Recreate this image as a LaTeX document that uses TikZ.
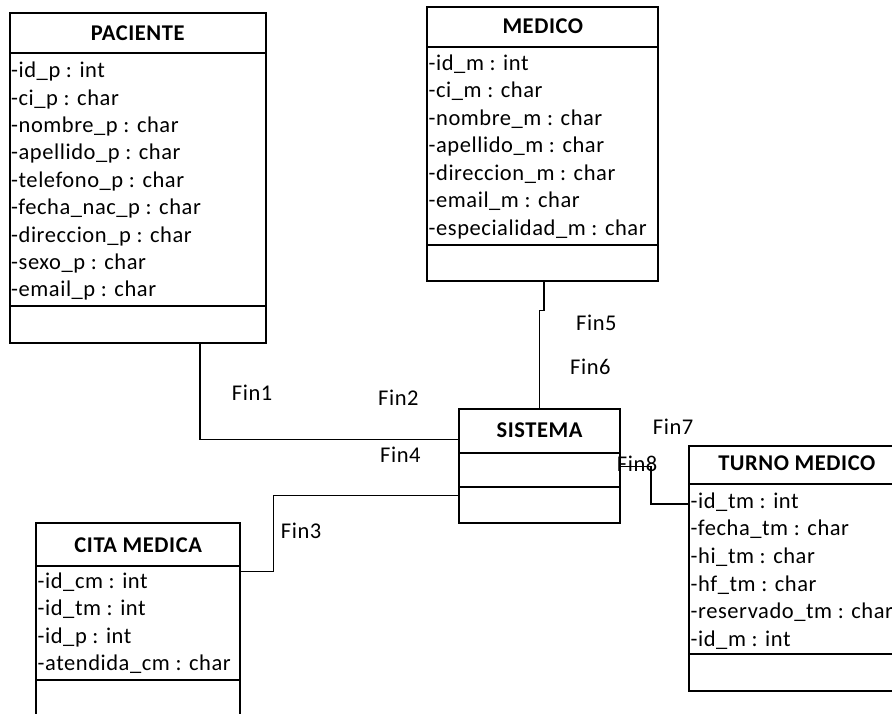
\documentclass[tikz,border=0pt]{standalone}
\usepackage{fontspec}
\setmainfont{Carlito}[LetterSpace=2.5]
\begin{document}
\begin{tikzpicture}[x=1pt,y=-1pt,
  box/.style={draw, line width=2pt, anchor=north west, inner sep=0pt, outer sep=0pt},
  divider/.style={line width=2pt},
  ttl/.style={anchor=base, inner sep=0pt, font=\fontsize{22.5}{27}\selectfont\bfseries},
  attr/.style={anchor=base west, inner sep=0pt, font=\fontsize{22.5}{27}\selectfont},
  fin/.style={anchor=base west, inner sep=0pt, font=\fontsize{22.5}{27}\selectfont},
  link/.style={line width=1.2pt}]
\useasboundingbox (0,0) rectangle (892,713);
\clip (0,0) rectangle (892,713);

% ---------- PACIENTE ----------
\node[box, minimum width=255.5pt, minimum height=330pt] (pac) at (10,12.7) {};
\draw[divider] (10,52.7) -- (265.5,52.7);
\draw[divider] (10,306) -- (265.5,306);
\node[ttl] (pact) at (137.75,40.7) {PACIENTE};
\foreach \t [count=\i from 0] in {-id\_p : int,-ci\_p : char,-nombre\_p : char,-apellido\_p : char,-telefono\_p : char,-fecha\_nac\_p : char,-direccion\_p : char,-sexo\_p : char,-email\_p : char}
  \node[attr] (pa\i) at (11,77.7+27.4*\i) {\t};

% ---------- MEDICO ----------
\node[box, minimum width=231pt, minimum height=274.3pt] (med) at (427.3,6.7) {};
\draw[divider] (427.3,46.7) -- (658.3,46.7);
\draw[divider] (427.3,245) -- (658.3,245);
\node[ttl] (medt) at (542.8,33.3) {MEDICO};
\foreach \t [count=\i from 0] in {-id\_m : int,-ci\_m : char,-nombre\_m : char,-apellido\_m : char,-direccion\_m : char,-email\_m : char,-especialidad\_m : char}
  \node[attr] (ma\i) at (428.5,70+27.5*\i) {\t};

% ---------- SISTEMA ----------
\node[box, minimum width=161pt, minimum height=114pt] (sis) at (459,409.3) {};
\draw[divider] (459,452.7) -- (620,452.7);
\draw[divider] (459,486.7) -- (620,486.7);
\node[ttl] (sist) at (539.5,437.7) {SISTEMA};

% ---------- CITA MEDICA ----------
\node[box, minimum width=203.7pt, minimum height=200pt] (cit) at (36.3,523.3) {};
\draw[divider] (36.3,566) -- (240,566);
\draw[divider] (36.3,680) -- (240,680);
\node[ttl] (citt) at (138.2,552.3) {CITA MEDICA};
\foreach \t [count=\i from 0] in {-id\_cm : int,-id\_tm : int,-id\_p : int,-atendida\_cm : char}
  \node[attr] (ca\i) at (37.5,588.3+27.5*\i) {\t};

% ---------- TURNO MEDICO ----------
\node[box, minimum width=215pt, minimum height=245.3pt] (tur) at (689.3,445.7) {};
\draw[divider] (689.3,484.3) -- (904.3,484.3);
\draw[divider] (689.3,654.3) -- (904.3,654.3);
\node[ttl] (turt) at (796.8,470.7) {TURNO MEDICO};
\foreach \t [count=\i from 0] in {-id\_tm : int,-fecha\_tm : char,-hi\_tm : char,-hf\_tm : char,-reservado\_tm : char,-id\_m : int}
  \node[attr] (ta\i) at (690.5,508.3+27.6*\i) {\t};

% ---------- connectors ----------
\draw[link] ([xshift=190pt]pac.south west) |- ([yshift=-30.4pt]sis.north west);
\draw[link] ([xshift=1.2pt]med.south) -- ++(0,29.7) -| (sis.north);
\draw[link] ([yshift=-86.4pt]sis.north west) -- ++(-185.3,0) |- ([yshift=-48.4pt]cit.north east);
\draw[link] ([yshift=-57.4pt]sis.north east) -- ++(31,0) |- ([yshift=-58.3pt]tur.north west);

% ---------- role labels ----------
\node[fin] (f1) at (231.7,400.7) {Fin1};
\node[fin] (f2) at (378,405.7) {Fin2};
\node[fin] (f3) at (280.7,538.3) {Fin3};
\node[fin] (f4) at (380,462.7) {Fin4};
\node[fin] (f5) at (576,330) {Fin5};
\node[fin] (f6) at (570,374) {Fin6};
\node[fin] (f7) at (652.7,434.3) {Fin7};
\node[fin] (f8) at (616.7,471.7) {Fin8};
\end{tikzpicture}
\end{document}
